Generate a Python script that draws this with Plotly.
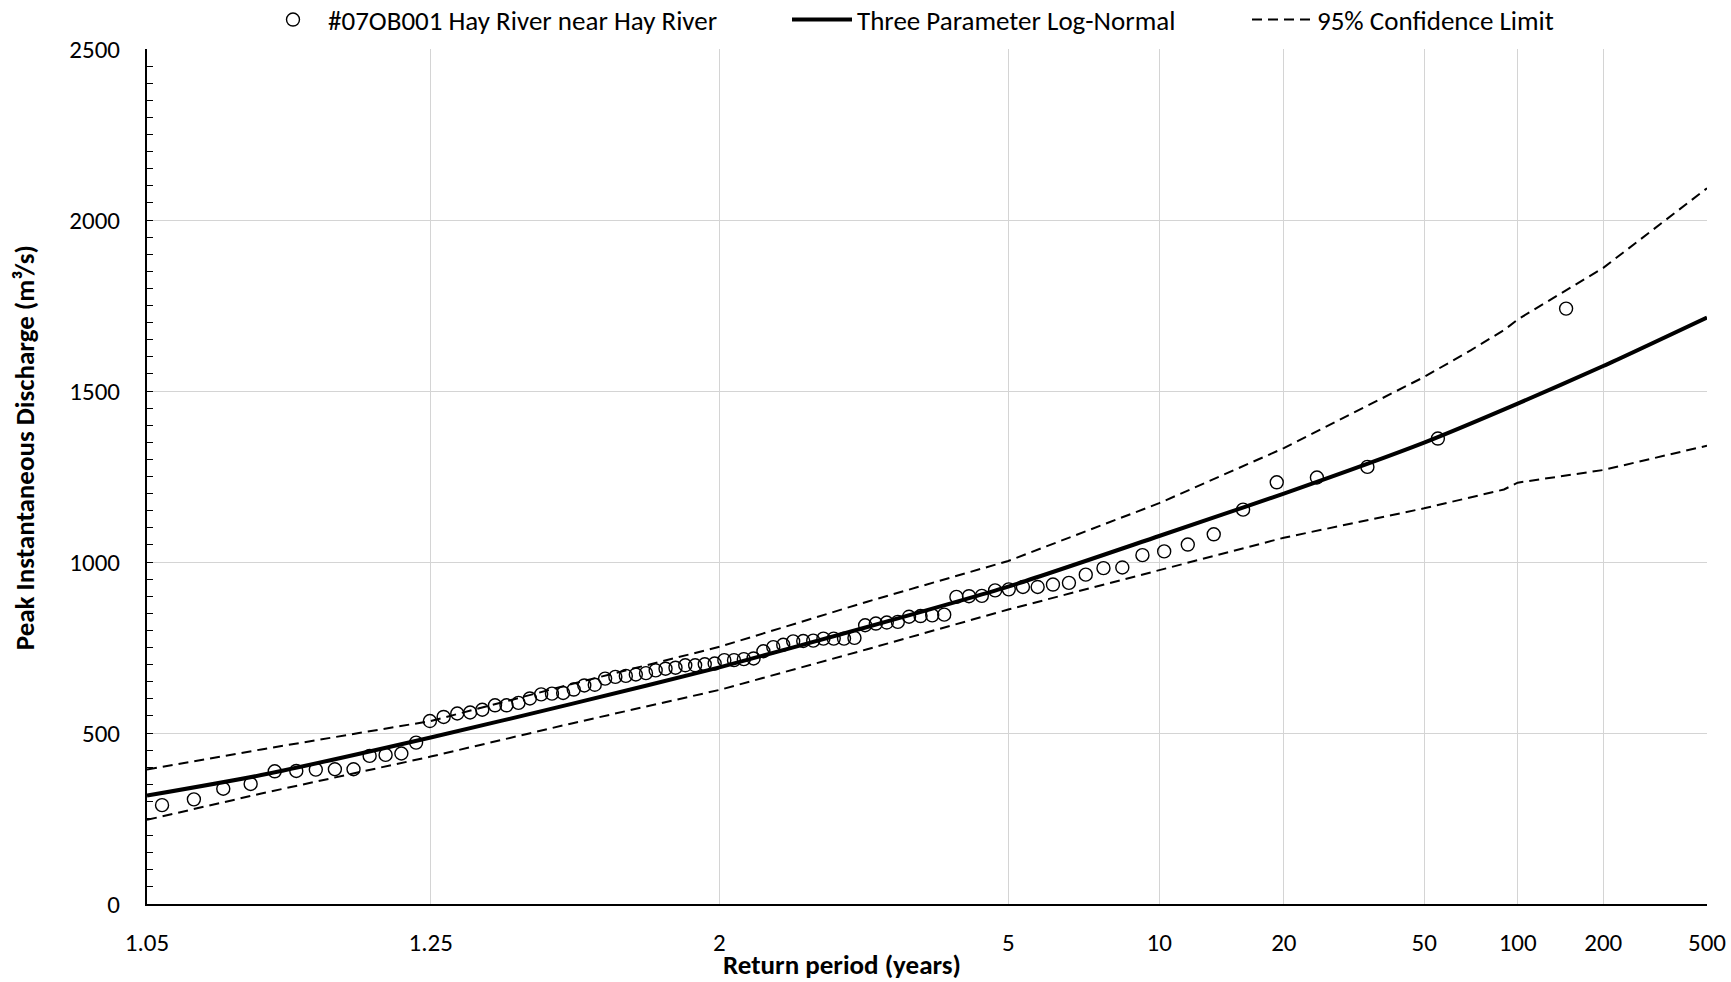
import plotly.graph_objects as go
from statistics import NormalDist

# ---------------- data ----------------
# observed annual peaks (ranked, largest first) and their plotted return periods (years)
obs_return_period = [147.0, 55.13, 33.92, 24.5, 19.17, 15.75, 13.36, 11.61, 10.26, 9.188,
                     8.321, 7.603, 7.0, 6.485, 6.041, 5.654, 5.313, 5.011, 4.742, 4.5,
                     4.282, 4.083, 3.903, 3.737, 3.585, 3.445, 3.316, 3.196, 3.084, 2.980,
                     2.882, 2.791, 2.706, 2.625, 2.549, 2.478, 2.410, 2.346, 2.285, 2.227,
                     2.172, 2.120, 2.070, 2.023, 1.978, 1.934, 1.893, 1.853, 1.815, 1.778,
                     1.743, 1.710, 1.677, 1.646, 1.615, 1.586, 1.558, 1.531, 1.505, 1.480,
                     1.455, 1.432, 1.409, 1.387, 1.365, 1.345, 1.324, 1.305, 1.286, 1.267,
                     1.249, 1.232, 1.215, 1.198, 1.182, 1.167, 1.151, 1.136, 1.122, 1.108,
                     1.094, 1.080, 1.067, 1.055]
obs_discharge = [1741, 1361, 1278, 1247, 1233, 1153, 1081, 1051, 1031, 1020,
                 984, 982, 963, 939, 934, 927, 927, 920, 917, 901,
                 900, 898, 846, 844, 842, 840, 825, 823, 820, 815,
                 778, 776, 776, 776, 770, 769, 768, 758, 751, 739,
                 718, 716, 713, 713, 703, 701, 698, 698, 691, 688,
                 683, 675, 671, 667, 664, 659, 641, 639, 627, 617,
                 615, 613, 601, 588, 581, 581, 568, 560, 557, 547,
                 535, 472, 440, 436, 433, 394, 394, 393, 389, 388,
                 351, 337, 306, 289]

fit_return_period = [1.05, 1.1, 1.25, 1.5, 2, 3, 5, 10, 20, 50, 100, 200, 500]
fit_discharge = [317, 377, 487, 585, 692, 810, 928, 1076, 1200, 1349, 1463, 1573, 1715]

ci_return_period = [1.05, 1.1, 1.25, 1.5, 2, 3, 5, 10, 20, 50, 70, 90, 100, 200, 500]
ci_upper = [393, 452, 535, 643, 752, 884, 1003, 1172, 1333, 1541, 1619, 1678, 1709, 1860, 2093]
ci_lower = [246, 323, 431, 528, 626, 745, 861, 975, 1071, 1157, 1190, 1212, 1232, 1269, 1340]

tick_return_periods = [1.05, 1.25, 2, 5, 10, 20, 50, 100, 200, 500]
tick_labels = ["1.05", "1.25", "2", "5", "10", "20", "50", "100", "200", "500"]

x_title = "Return period (years)"
y_title = "Peak Instantaneous Discharge (m³/s)"

# ---------------- probability (normal) scale for return period ----------------
_nd = NormalDist()


def zscale(periods):
    return [_nd.inv_cdf(1.0 - 1.0 / t) for t in periods]


FONT = "Carlito, Calibri, Lato, sans-serif"
DASH = "10px,6px"

fig = go.Figure()
fig.add_trace(go.Scatter(
    x=zscale(obs_return_period), y=obs_discharge, mode="markers",
    name="#07OB001 Hay River near Hay River", legend="legend",
    marker=dict(symbol="circle-open", size=13, color="black", line=dict(width=1.4, color="black")),
))
fig.add_trace(go.Scatter(
    x=zscale(fit_return_period), y=fit_discharge, mode="lines",
    name="Three Parameter Log-Normal", legend="legend2",
    line=dict(color="black", width=4, shape="spline", smoothing=0.6),
))
fig.add_trace(go.Scatter(
    x=zscale(ci_return_period), y=ci_upper, mode="lines",
    name="95% Confidence Limit", legend="legend3",
    line=dict(color="black", width=2, dash=DASH),
))
fig.add_trace(go.Scatter(
    x=zscale(ci_return_period), y=ci_lower, mode="lines",
    name="95% Confidence Limit", showlegend=False, legend="legend3",
    line=dict(color="black", width=2, dash=DASH),
))


def legend_box(xpix):
    return dict(orientation="h", xref="container", yref="container",
                x=xpix / 1731, xanchor="left", y=1 - 20 / 982, yanchor="middle",
                font=dict(family=FONT, size=27, color="black"),
                itemwidth=60, bgcolor="rgba(0,0,0,0)")


zt = zscale(tick_return_periods)
fig.update_layout(
    width=1731, height=982,
    margin=dict(l=147, r=24, t=49, b=78, autoexpand=False),
    paper_bgcolor="white", plot_bgcolor="white",
    font=dict(family=FONT, size=25, color="black"),
    showlegend=True,
    legend=legend_box(258),
    legend2=legend_box(787),
    legend3=legend_box(1247),
    xaxis=dict(
        range=[zt[0], zt[-1]], tickmode="array", tickvals=zt, ticktext=tick_labels,
        showgrid=True, gridcolor="#d4d4d4", gridwidth=1,
        showline=True, linecolor="black", linewidth=2, ticks="",
        zeroline=False, ticklabelstandoff=15,
        tickfont=dict(family=FONT, size=25, color="black"),
    ),
    yaxis=dict(
        range=[0, 2500], dtick=500, tick0=0,
        showgrid=True, gridcolor="#d4d4d4", gridwidth=1,
        showline=True, linecolor="black", linewidth=2,
        ticks="inside", ticklen=6, tickcolor="black", tickwidth=1,
        minor=dict(dtick=50, ticks="inside", ticklen=6, tickcolor="black", tickwidth=1, showgrid=False),
        zeroline=False, ticklabelstandoff=20,
        tickfont=dict(family=FONT, size=25, color="black"),
    ),
    annotations=[
        dict(text="<b>" + x_title + "</b>", xref="paper", yref="paper",
             x=(842 - 147) / 1560, y=(903.7 - 964) / 855, xanchor="center", yanchor="middle",
             showarrow=False, font=dict(family=FONT, size=27, color="black")),
        dict(text="<b>" + y_title + "</b>", xref="paper", yref="paper", textangle=-90,
             x=(24 - 147) / 1560, y=(903.7 - 448) / 855, xanchor="center", yanchor="middle",
             showarrow=False, font=dict(family=FONT, size=27, color="black")),
    ],
)

fig.write_html("out.html")
